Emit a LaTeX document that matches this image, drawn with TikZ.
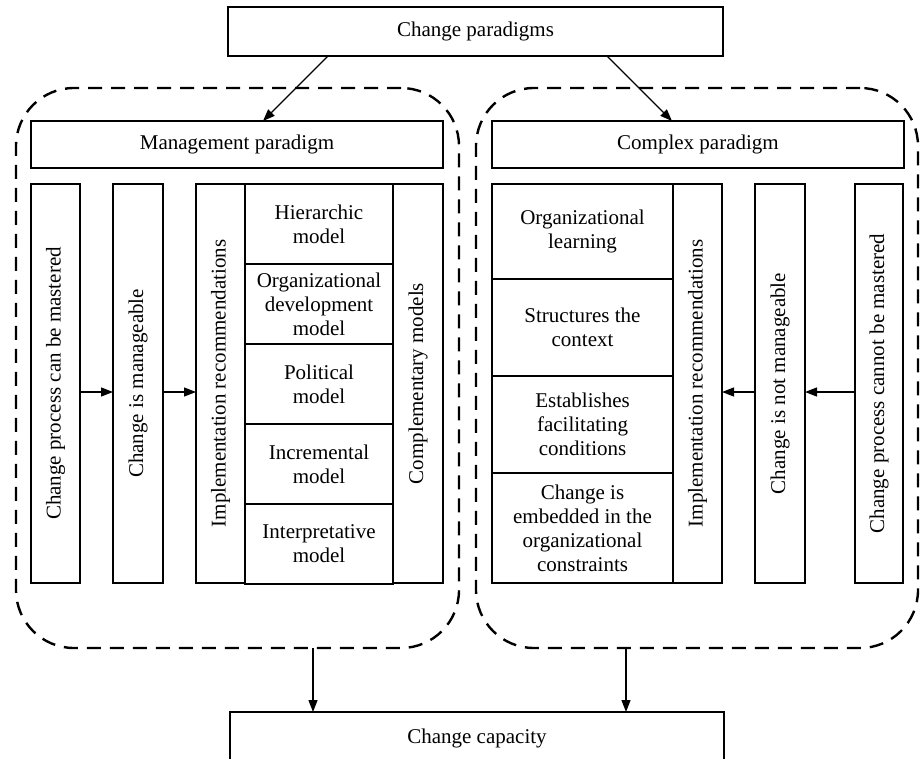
\documentclass[tikz,border=0pt]{standalone}
\usepackage{fontspec}
\setmainfont{Liberation Serif}
\usetikzlibrary{arrows.meta}

\begin{document}
\begin{tikzpicture}[x=1pt, y=-1pt, >={Triangle[length=12pt,width=9pt]},
    every node/.style={font=\fontsize{21}{24}\selectfont, align=center, inner sep=0pt, outer sep=0pt},
    box/.style={draw, line width=1.1pt, anchor=north west},
    group/.style={draw, line width=2.4pt, dash pattern=on 14pt off 9pt, rounded corners=58pt, anchor=north west},
    flow/.style={->, line width=1.3pt}]
    \useasboundingbox (0,0) rectangle (920,759);

    \node[box, minimum width=495pt, minimum height=49pt] (paradigms) at (228,7) {Change paradigms};
    \node[group, minimum width=443pt, minimum height=560pt] (lgroup) at (16,88) {};
    \node[group, minimum width=442pt, minimum height=560pt] (rgroup) at (476,88) {};
    \node[box, minimum width=412pt, minimum height=47pt] (mgmt) at (31,121) {Management paradigm};
    \node[box, minimum width=412pt, minimum height=47pt] (complex) at (492,121) {Complex paradigm};

    % management side
    \node[box, minimum width=49pt, minimum height=399pt] (lmaster) at (31,184) {\rotatebox{90}{Change process can be mastered}};
    \node[box, minimum width=50pt, minimum height=399pt] (lmanage) at (113,184) {\rotatebox{90}{Change is manageable}};
    \node[box, minimum width=49pt, minimum height=399pt] (limpl) at (196,184) {\rotatebox{90}{Implementation recommendations}};
    \foreach \name/\txt [count=\i from 0] in {mhier/{Hierarchic\\model}, morgdev/{Organizational\\development\\model}, mpolit/{Political\\model}, mincr/{Incremental\\model}, minterp/{Interpretative\\model}}
        \node[box, minimum width=148pt, minimum height=80pt] (\name) at (245,{184+80*\i}) {\txt};
    \node[box, minimum width=50pt, minimum height=399pt] (lcompl) at (393,184) {\rotatebox{90}{Complementary models}};

    % complex side
    \foreach \name/\ytop/\h/\txt in {rlearn/184/95/{Organizational\\learning}, rcontext/279/97/{Structures the\\context}, rcond/376/97/{Establishes\\facilitating\\conditions}, rembed/473/110/{Change is\\embedded in the\\organizational\\constraints}}
        \node[box, minimum width=181pt, minimum height=\h] (\name) at (492,\ytop) {\txt};
    \node[box, minimum width=49pt, minimum height=399pt] (rimpl) at (673,184) {\rotatebox{90}{Implementation recommendations}};
    \node[box, minimum width=50pt, minimum height=399pt] (rmanage) at (755,184) {\rotatebox{90}{Change is not manageable}};
    \node[box, minimum width=48pt, minimum height=399pt] (rmaster) at (855,184) {\rotatebox{90}{Change process cannot be mastered}};

    \node[box, minimum width=494pt, minimum height=53pt] (capacity) at (230,712) {Change capacity};

    \draw[flow] ([xshift=-147.5pt]paradigms.south) -- ([xshift=26pt]mgmt.north);
    \draw[flow] ([xshift=131.5pt]paradigms.south) -- ([xshift=-26pt]complex.north);
    \draw[flow] ([yshift=-8.5pt]lmaster.east) -- ([yshift=-8.5pt]lmanage.west);
    \draw[flow] ([yshift=-8.5pt]lmanage.east) -- ([yshift=-8.5pt]limpl.west);
    \draw[flow] ([yshift=-8.5pt]rmaster.west) -- ([yshift=-8.5pt]rmanage.east);
    \draw[flow] ([yshift=-8.5pt]rmanage.west) -- ([yshift=-8.5pt]rimpl.east);
    \draw[flow] ([xshift=75.5pt]lgroup.south) -- ([xshift=75.5pt]lgroup.south |- capacity.north);
    \draw[flow] ([xshift=-71pt]rgroup.south) -- ([xshift=-71pt]rgroup.south |- capacity.north);
\end{tikzpicture}
\end{document}
